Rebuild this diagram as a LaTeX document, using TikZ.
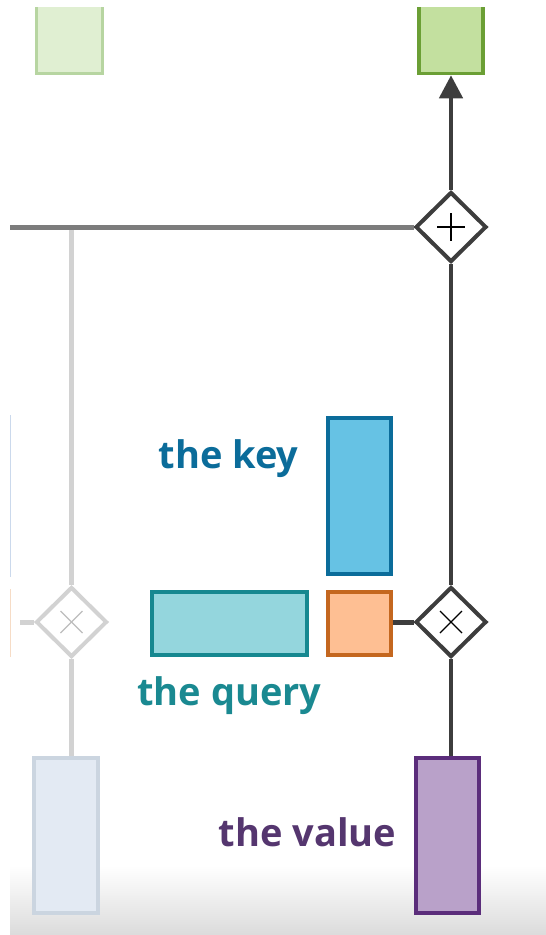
\documentclass[tikz,border=0pt]{standalone}
\usepackage{fontspec}
\setmainfont{Open Sans}
\usetikzlibrary{shapes.geometric,arrows.meta}
\definecolor{keyline}{HTML}{0B6C9A}
\definecolor{keyfill}{HTML}{66C2E4}
\definecolor{queryline}{HTML}{168890}
\definecolor{queryfill}{HTML}{94D6DD}
\definecolor{querytext}{HTML}{1A8991}
\definecolor{scoreline}{HTML}{C4671F}
\definecolor{scorefill}{HTML}{FEBF93}
\definecolor{valueline}{HTML}{5B2D7B}
\definecolor{valuefill}{HTML}{B9A1C9}
\definecolor{valuetext}{HTML}{55366F}
\definecolor{outline}{HTML}{6B9F35}
\definecolor{outfill}{HTML}{C3E09F}
\definecolor{paleoutline}{HTML}{B7D5A1}
\definecolor{paleoutfill}{HTML}{E0EFD2}
\definecolor{palevline}{HTML}{CBD5E0}
\definecolor{palevfill}{HTML}{E3EAF3}
\definecolor{darkwire}{HTML}{3D3D3D}
\definecolor{midwire}{HTML}{7C7C7C}
\definecolor{ghostwire}{HTML}{D2D2D2}
\definecolor{ghostmark}{HTML}{BDBDBD}
\definecolor{faintblue}{HTML}{CBD9EC}
\definecolor{faintorange}{HTML}{F6DCC6}

\begin{document}
\begin{tikzpicture}[x=1pt,y=-1pt,
  cell/.style={draw,line width=3.5pt,inner sep=0pt},
  gate/.style={diamond,draw=darkwire,line width=4pt,inner sep=0pt,
    minimum width=71pt,minimum height=70pt,fill=white},
  wire/.style={draw=darkwire,line width=4.5pt},
  ghost/.style={draw=ghostwire,line width=5pt},
  tag/.style={font=\fontsize{38}{44}\selectfont\bfseries,inner sep=0pt,anchor=base}]
  \useasboundingbox (0,0) rectangle (546,935);
  \shade[top color=white,bottom color=black!14] (10,866) rectangle (546,935);
  \begin{scope}
    \clip (0,7) rectangle (546,935);
    \node[cell,draw=paleoutline,fill=paleoutfill,minimum width=66pt,minimum height=100pt] (outfaded) at (69.5,23.5) {};
    \node[cell,draw=outline,fill=outfill,minimum width=64pt,minimum height=100pt] (out) at (451,23.5) {};
  \end{scope}
  \draw[faintblue,line width=1pt] (10.5,415) -- (10.5,577);
  \draw[faintorange,line width=1pt] (10.5,589) -- (10.5,657);

  \node[cell,draw=keyline,fill=keyfill,minimum width=63pt,minimum height=156pt] (key) at (359.5,496) {};
  \node[cell,draw=queryline,fill=queryfill,minimum width=155pt,minimum height=63pt] (query) at (229.5,623.5) {};
  \node[cell,draw=scoreline,fill=scorefill,minimum width=63pt,minimum height=63pt] (score) at (359.5,623.5) {};
  \node[cell,draw=valueline,fill=valuefill,minimum width=63pt,minimum height=155pt] (value) at (447.5,835.5) {};
  \node[cell,draw=palevline,fill=palevfill,minimum width=64pt,minimum height=155pt] (vfaded) at (66,835.5) {};

  \node[gate] (plus) at (451,227) {};
  \node[gate] (times) at (451,622) {};
  \node[gate,draw=ghostwire] (timesfaded) at (71.5,622) {};

  \coordinate (tap) at (71.5,227);
  \coordinate (feed) at (10,227);
  \coordinate (ghoststub) at (20,622);
  \draw[ghost] (tap) -- (timesfaded.north);
  \draw[ghost] (timesfaded.south) -- (timesfaded.south |- vfaded.north);
  \draw[ghost] (ghoststub) -- (timesfaded.west);
  \draw[draw=midwire,line width=5pt] (feed) -- (plus.west);

  \draw[wire,-{Triangle[length=23pt,width=23pt]}] (plus.north) -- (out.south);
  \draw[wire] (times.north) -- (plus.south);
  \draw[wire] (times.south) -- (times.south |- value.north);
  \draw[wire,line width=5pt] (score.east |- times.west) -- (times.west);

  \draw[line width=1.3pt] (plus.center) ++(-14,0) -- ++(28,0);
  \draw[line width=1.3pt] (plus.center) ++(0,-14) -- ++(0,28);
  \draw[line width=1.3pt] (times.center) ++(-11,-11) -- ++(22,22);
  \draw[line width=1.3pt] (times.center) ++(-11,11) -- ++(22,-22);
  \draw[ghostmark,line width=1.3pt] (timesfaded.center) ++(-11,-11) -- ++(22,22);
  \draw[ghostmark,line width=1.3pt] (timesfaded.center) ++(-11,11) -- ++(22,-22);

  \node[tag,keyline] (keytag) at (228.5,468) {the key};
  \node[tag,querytext] (querytag) at (229.5,705) {the query};
  \node[tag,valuetext] (valuetag) at (307.5,846) {the value};
\end{tikzpicture}
\end{document}
